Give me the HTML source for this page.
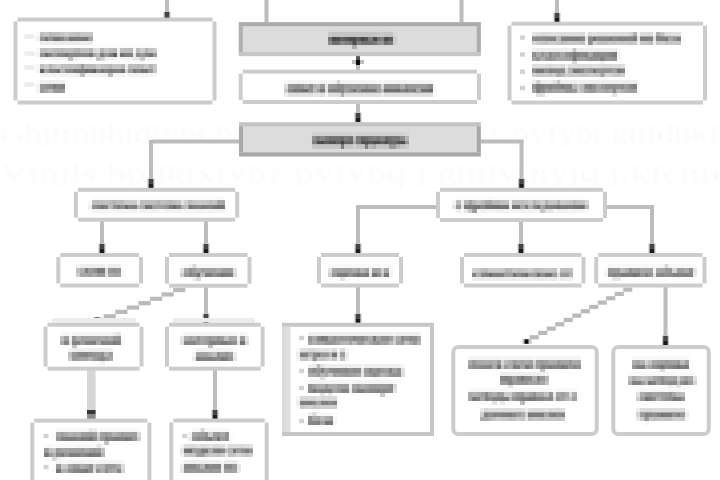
<!DOCTYPE html>
<html><head><meta charset="utf-8"><style>
html,body{margin:0;padding:0;background:#fff;width:720px;height:480px;overflow:hidden}
svg{display:block}
</style></head><body>
<svg width="720" height="480" viewBox="0 0 720 480">
<defs><filter id="b" x="-5%" y="-50%" width="110%" height="200%"><feGaussianBlur stdDeviation="1.3 0.9"/></filter>
<filter id="px" x="0" y="0" width="720" height="480" filterUnits="userSpaceOnUse" primitiveUnits="userSpaceOnUse" color-interpolation-filters="sRGB">
<feGaussianBlur in="SourceGraphic" stdDeviation="0.8" result="bl"/>
<feFlood x="2.0" y="2.0" width="1" height="1" flood-color="#fff" result="dot"/>
<feComposite in="dot" in2="dot" operator="over" x="0" y="0" width="4.0" height="4.0" result="cell"/>
<feTile in="cell" result="grid"/>
<feComposite in="bl" in2="grid" operator="in" result="s"/>
<feMorphology in="s" operator="dilate" radius="2.0" result="m"/>
<feGaussianBlur in="m" stdDeviation="0.7"/>
</filter>
<filter id="b2" x="-5%" y="-5%" width="110%" height="110%"><feGaussianBlur stdDeviation="0.5"/></filter></defs>
<rect width="720" height="480" fill="#fff"/>
<g fill="#fafafa" font-family="Liberation Serif, serif" font-size="25" filter="url(#b)">
<text x="0" y="142" textLength="720" lengthAdjust="spacingAndGlyphs">Ghjtrnbhjdfybt bynt uhfwbb cbcntvs pyfybt ghfdbkf</text>
<text x="0" y="182" textLength="720" lengthAdjust="spacingAndGlyphs">Vtnjls bpdktxtybz pyfybq j ghtlvtnyjq j,kfcnb</text>
</g>
<g filter="url(#b2)">
<rect x="165.00" y="0.00" width="4" height="18.00" fill="#bcbcbc"/>
<rect x="163.50" y="11.50" width="7" height="9.5" fill="#c4c4c4"/>
<rect x="164.75" y="12.00" width="4.5" height="4.5" fill="#444"/>
<rect x="164.75" y="16.50" width="4.5" height="4.5" fill="#1a1a1a"/>
<rect x="264.50" y="0.00" width="4" height="22.00" fill="#bcbcbc"/>
<rect x="459.50" y="0.00" width="4" height="22.00" fill="#bcbcbc"/>
<rect x="555.00" y="0.00" width="4" height="22.00" fill="#bcbcbc"/>
<rect x="553.50" y="12.50" width="7" height="9.5" fill="#c4c4c4"/>
<rect x="554.75" y="13.00" width="4.5" height="4.5" fill="#444"/>
<rect x="554.75" y="17.50" width="4.5" height="4.5" fill="#1a1a1a"/>
<rect x="356.00" y="56.00" width="4" height="14.00" fill="#bcbcbc"/>
<rect x="352.00" y="60.00" width="12" height="4" fill="#bdbdbd"/>
<rect x="356.00" y="60.00" width="4" height="5" fill="#111"/>
<rect x="356.00" y="56" width="4" height="4" fill="#555"/>
<rect x="356.00" y="104.00" width="4" height="18.00" fill="#bcbcbc"/>
<rect x="354.50" y="112.50" width="7" height="9.5" fill="#c4c4c4"/>
<rect x="355.75" y="113.00" width="4.5" height="4.5" fill="#444"/>
<rect x="355.75" y="117.50" width="4.5" height="4.5" fill="#1a1a1a"/>
<rect x="151.00" y="139.50" width="88.00" height="4" fill="#bcbcbc"/>
<rect x="149.00" y="140.00" width="4" height="48.00" fill="#bcbcbc"/>
<rect x="147.50" y="178.50" width="7" height="9.5" fill="#c4c4c4"/>
<rect x="148.75" y="179.00" width="4.5" height="4.5" fill="#444"/>
<rect x="148.75" y="183.50" width="4.5" height="4.5" fill="#1a1a1a"/>
<rect x="481.00" y="139.50" width="42.50" height="4" fill="#bcbcbc"/>
<rect x="519.50" y="140.00" width="4" height="48.00" fill="#bcbcbc"/>
<rect x="518.00" y="178.50" width="7" height="9.5" fill="#c4c4c4"/>
<rect x="519.25" y="179.00" width="4.5" height="4.5" fill="#444"/>
<rect x="519.25" y="183.50" width="4.5" height="4.5" fill="#1a1a1a"/>
<rect x="100.00" y="221.00" width="4" height="32.00" fill="#bcbcbc"/>
<rect x="98.50" y="243.50" width="7" height="9.5" fill="#c4c4c4"/>
<rect x="99.75" y="244.00" width="4.5" height="4.5" fill="#444"/>
<rect x="99.75" y="248.50" width="4.5" height="4.5" fill="#1a1a1a"/>
<rect x="204.00" y="221.00" width="4" height="32.00" fill="#bcbcbc"/>
<rect x="202.50" y="243.50" width="7" height="9.5" fill="#c4c4c4"/>
<rect x="203.75" y="244.00" width="4.5" height="4.5" fill="#444"/>
<rect x="203.75" y="248.50" width="4.5" height="4.5" fill="#1a1a1a"/>
<rect x="356.00" y="205.00" width="82.00" height="4" fill="#bcbcbc"/>
<rect x="356.00" y="205.00" width="4" height="48.00" fill="#bcbcbc"/>
<rect x="354.50" y="243.50" width="7" height="9.5" fill="#c4c4c4"/>
<rect x="355.75" y="244.00" width="4.5" height="4.5" fill="#444"/>
<rect x="355.75" y="248.50" width="4.5" height="4.5" fill="#1a1a1a"/>
<rect x="519.00" y="222.00" width="4" height="31.00" fill="#bcbcbc"/>
<rect x="517.50" y="243.50" width="7" height="9.5" fill="#c4c4c4"/>
<rect x="518.75" y="244.00" width="4.5" height="4.5" fill="#444"/>
<rect x="518.75" y="248.50" width="4.5" height="4.5" fill="#1a1a1a"/>
<rect x="604.00" y="205.00" width="50.00" height="4" fill="#bcbcbc"/>
<rect x="650.00" y="205.00" width="4" height="48.00" fill="#bcbcbc"/>
<rect x="648.50" y="243.50" width="7" height="9.5" fill="#c4c4c4"/>
<rect x="649.75" y="244.00" width="4.5" height="4.5" fill="#444"/>
<rect x="649.75" y="248.50" width="4.5" height="4.5" fill="#1a1a1a"/>
<rect x="173.13" y="288.00" width="12.17" height="4.2" fill="#bababa"/>
<rect x="161.56" y="292.36" width="12.17" height="4.2" fill="#bababa"/>
<rect x="149.99" y="296.71" width="12.17" height="4.2" fill="#bababa"/>
<rect x="138.41" y="301.07" width="12.17" height="4.2" fill="#bababa"/>
<rect x="126.84" y="305.43" width="12.17" height="4.2" fill="#bababa"/>
<rect x="115.27" y="309.79" width="12.17" height="4.2" fill="#bababa"/>
<rect x="103.70" y="314.14" width="12.17" height="4.2" fill="#bababa"/>
<rect x="93.00" y="317.00" width="9" height="5" fill="#c4c4c4"/>
<rect x="95.00" y="317.50" width="4" height="4.5" fill="#111"/>
<rect x="204.00" y="287.00" width="4" height="36.00" fill="#bcbcbc"/>
<rect x="202.50" y="313.50" width="7" height="9.5" fill="#c4c4c4"/>
<rect x="203.75" y="314.00" width="4.5" height="4.5" fill="#444"/>
<rect x="203.75" y="318.50" width="4.5" height="4.5" fill="#1a1a1a"/>
<rect x="87.00" y="370.00" width="8.6" height="49.00" fill="#d6d6d6"/>
<rect x="87" y="410" width="8.6" height="4.4" fill="#383838"/><rect x="87" y="414.4" width="8.6" height="4.6" fill="#8a8a8a"/>
<rect x="213.00" y="370.00" width="4" height="49.00" fill="#bcbcbc"/>
<rect x="211.50" y="409.50" width="7" height="9.5" fill="#c4c4c4"/>
<rect x="212.75" y="410.00" width="4.5" height="4.5" fill="#444"/>
<rect x="212.75" y="414.50" width="4.5" height="4.5" fill="#1a1a1a"/>
<rect x="356.00" y="287.00" width="4" height="36.00" fill="#bcbcbc"/>
<rect x="354.50" y="313.50" width="7" height="9.5" fill="#c4c4c4"/>
<rect x="355.75" y="314.00" width="4.5" height="4.5" fill="#444"/>
<rect x="355.75" y="318.50" width="4.5" height="4.5" fill="#1a1a1a"/>
<rect x="623.20" y="287.50" width="9.10" height="4.2" fill="#bababa"/>
<rect x="614.70" y="291.83" width="9.10" height="4.2" fill="#bababa"/>
<rect x="606.20" y="296.17" width="9.10" height="4.2" fill="#bababa"/>
<rect x="597.70" y="300.50" width="9.10" height="4.2" fill="#bababa"/>
<rect x="589.20" y="304.83" width="9.10" height="4.2" fill="#bababa"/>
<rect x="580.70" y="309.17" width="9.10" height="4.2" fill="#bababa"/>
<rect x="572.20" y="313.50" width="9.10" height="4.2" fill="#bababa"/>
<rect x="563.70" y="317.83" width="9.10" height="4.2" fill="#bababa"/>
<rect x="555.20" y="322.17" width="9.10" height="4.2" fill="#bababa"/>
<rect x="546.70" y="326.50" width="9.10" height="4.2" fill="#bababa"/>
<rect x="538.20" y="330.83" width="9.10" height="4.2" fill="#bababa"/>
<rect x="529.70" y="335.17" width="9.10" height="4.2" fill="#bababa"/>
<rect x="522.50" y="338.80" width="9" height="5" fill="#c4c4c4"/>
<rect x="524.50" y="339.30" width="4" height="4.5" fill="#111"/>
<rect x="663.50" y="287.00" width="4" height="58.00" fill="#bcbcbc"/>
<rect x="662.00" y="335.50" width="7" height="9.5" fill="#c4c4c4"/>
<rect x="663.25" y="336.00" width="4.5" height="4.5" fill="#444"/>
<rect x="663.25" y="340.50" width="4.5" height="4.5" fill="#1a1a1a"/>
<rect x="17.5" y="21.5" width="195.00" height="79.00" fill="#ffffff"/>
<rect x="17.50" y="17.50" width="195.00" height="4" fill="#cccccc"/>
<rect x="17.50" y="100.50" width="195.00" height="4" fill="#cccccc"/>
<rect x="13.50" y="21.50" width="4" height="79.00" fill="#cccccc"/>
<rect x="212.50" y="21.50" width="4" height="79.00" fill="#cccccc"/>
<rect x="238.8" y="22.2" width="242.0" height="33.900000000000006" fill="#dcdcdc"/>
<rect x="238.8" y="22.2" width="242.0" height="4" fill="#ababab"/>
<rect x="238.8" y="52.1" width="242.0" height="4" fill="#c6c6c6"/>
<rect x="238.8" y="26.2" width="4" height="25.900000000000006" fill="#b0b0b0"/>
<rect x="476.8" y="26.2" width="4" height="25.900000000000006" fill="#acacac"/>
<rect x="242.7" y="73.6" width="234.30" height="26.40" fill="#ffffff"/>
<rect x="242.70" y="69.60" width="234.30" height="4" fill="#cccccc"/>
<rect x="242.70" y="100.00" width="234.30" height="4" fill="#cccccc"/>
<rect x="238.70" y="73.60" width="4" height="26.40" fill="#cccccc"/>
<rect x="477.00" y="73.60" width="4" height="26.40" fill="#cccccc"/>
<rect x="239" y="122.3" width="241.8" height="34.10000000000001" fill="#dcdcdc"/>
<rect x="239" y="122.3" width="241.8" height="4" fill="#c4c4c4"/>
<rect x="239" y="152.4" width="241.8" height="4" fill="#a8a8a8"/>
<rect x="239" y="126.3" width="4" height="26.10000000000001" fill="#aaaaaa"/>
<rect x="476.8" y="126.3" width="4" height="26.10000000000001" fill="#a8a8a8"/>
<rect x="511.5" y="25.7" width="191.50" height="74.80" fill="#ffffff"/>
<rect x="511.50" y="21.70" width="191.50" height="4" fill="#cccccc"/>
<rect x="511.50" y="100.50" width="191.50" height="4" fill="#cccccc"/>
<rect x="507.50" y="25.70" width="4" height="74.80" fill="#cccccc"/>
<rect x="703.00" y="25.70" width="4" height="74.80" fill="#cccccc"/>
<rect x="77.9" y="191.8" width="157.30" height="25.90" fill="#ffffff"/>
<rect x="77.90" y="187.80" width="157.30" height="4" fill="#cccccc"/>
<rect x="77.90" y="217.70" width="157.30" height="4" fill="#cccccc"/>
<rect x="73.90" y="191.80" width="4" height="25.90" fill="#cccccc"/>
<rect x="235.20" y="191.80" width="4" height="25.90" fill="#cccccc"/>
<rect x="440" y="191.8" width="163.00" height="26.20" fill="#ffffff"/>
<rect x="440.00" y="187.80" width="163.00" height="4" fill="#cccccc"/>
<rect x="440.00" y="218.00" width="163.00" height="4" fill="#cccccc"/>
<rect x="436.00" y="191.80" width="4" height="26.20" fill="#cccccc"/>
<rect x="603.00" y="191.80" width="4" height="26.20" fill="#cccccc"/>
<rect x="60.3" y="257" width="78.70" height="26.50" fill="#ffffff"/>
<rect x="60.30" y="253.00" width="78.70" height="4" fill="#cccccc"/>
<rect x="60.30" y="283.50" width="78.70" height="4" fill="#cccccc"/>
<rect x="56.30" y="257.00" width="4" height="26.50" fill="#cccccc"/>
<rect x="139.00" y="257.00" width="4" height="26.50" fill="#cccccc"/>
<rect x="169" y="257" width="78.50" height="26.70" fill="#ffffff"/>
<rect x="169.00" y="253.00" width="78.50" height="4" fill="#cccccc"/>
<rect x="169.00" y="283.70" width="78.50" height="4" fill="#cccccc"/>
<rect x="165.00" y="257.00" width="4" height="26.70" fill="#cccccc"/>
<rect x="247.50" y="257.00" width="4" height="26.70" fill="#cccccc"/>
<rect x="321" y="257" width="78.00" height="26.50" fill="#ffffff"/>
<rect x="321.00" y="253.00" width="78.00" height="4" fill="#cccccc"/>
<rect x="321.00" y="283.50" width="78.00" height="4" fill="#cccccc"/>
<rect x="317.00" y="257.00" width="4" height="26.50" fill="#cccccc"/>
<rect x="399.00" y="257.00" width="4" height="26.50" fill="#cccccc"/>
<rect x="464" y="257" width="117.50" height="26.50" fill="#ffffff"/>
<rect x="464.00" y="253.00" width="117.50" height="4" fill="#cccccc"/>
<rect x="464.00" y="283.50" width="117.50" height="4" fill="#cccccc"/>
<rect x="460.00" y="257.00" width="4" height="26.50" fill="#cccccc"/>
<rect x="581.50" y="257.00" width="4" height="26.50" fill="#cccccc"/>
<rect x="598.2" y="257" width="104.30" height="26.50" fill="#ffffff"/>
<rect x="598.20" y="253.00" width="104.30" height="4" fill="#cccccc"/>
<rect x="598.20" y="283.50" width="104.30" height="4" fill="#cccccc"/>
<rect x="594.20" y="257.00" width="4" height="26.50" fill="#cccccc"/>
<rect x="702.50" y="257.00" width="4" height="26.50" fill="#cccccc"/>
<rect x="52" y="318" width="84" height="4.5" fill="#ececec"/>
<rect x="47.5" y="326.7" width="92.00" height="39.90" fill="#ffffff"/>
<rect x="47.50" y="322.70" width="92.00" height="4" fill="#cccccc"/>
<rect x="47.50" y="366.60" width="92.00" height="4" fill="#cccccc"/>
<rect x="43.50" y="326.70" width="4" height="39.90" fill="#cccccc"/>
<rect x="139.50" y="326.70" width="4" height="39.90" fill="#cccccc"/>
<rect x="173" y="318" width="82" height="4.5" fill="#ececec"/>
<rect x="169" y="326.7" width="91.60" height="39.90" fill="#ffffff"/>
<rect x="169.00" y="322.70" width="91.60" height="4" fill="#cccccc"/>
<rect x="169.00" y="366.60" width="91.60" height="4" fill="#cccccc"/>
<rect x="165.00" y="326.70" width="4" height="39.90" fill="#cccccc"/>
<rect x="260.60" y="326.70" width="4" height="39.90" fill="#cccccc"/>
<rect x="282" y="322.8" width="152" height="113.19999999999999" fill="#fff"/>
<rect x="282" y="322.8" width="152" height="4" fill="#c6c6c6"/>
<rect x="282" y="432" width="152" height="4" fill="#c6c6c6"/>
<rect x="282" y="326.8" width="4" height="105.19999999999999" fill="#dcdcdc"/>
<rect x="430" y="326.8" width="4" height="105.19999999999999" fill="#c6c6c6"/>
<rect x="286" y="326.8" width="4.6" height="105.2" fill="#dedede"/>
<rect x="453.25" y="347.00" width="143.50" height="87.00" rx="5" fill="#ffffff" stroke="#cccccc" stroke-width="4"/>
<rect x="613.25" y="347.00" width="95.55" height="87.00" rx="5" fill="#ffffff" stroke="#cccccc" stroke-width="4"/>
<rect x="34.3" y="422.6" width="113.10" height="63.40" fill="#ffffff"/>
<rect x="34.30" y="418.60" width="113.10" height="4" fill="#cccccc"/>
<rect x="34.30" y="486.00" width="113.10" height="4" fill="#cccccc"/>
<rect x="30.30" y="422.60" width="4" height="63.40" fill="#cccccc"/>
<rect x="147.40" y="422.60" width="4" height="63.40" fill="#cccccc"/>
<rect x="173.3" y="422.5" width="91.40" height="63.50" fill="#ffffff"/>
<rect x="173.30" y="418.50" width="91.40" height="4" fill="#cccccc"/>
<rect x="173.30" y="486.00" width="91.40" height="4" fill="#cccccc"/>
<rect x="169.30" y="422.50" width="4" height="63.50" fill="#cccccc"/>
<rect x="264.70" y="422.50" width="4" height="63.50" fill="#cccccc"/>
<rect x="24.5" y="34.3" width="10" height="4.4" fill="#ececec"/>
<rect x="24.5" y="51.3" width="10" height="4.4" fill="#ececec"/>
<rect x="24.5" y="65.3" width="10" height="4.4" fill="#ececec"/>
<rect x="24.5" y="82.3" width="10" height="4.4" fill="#ececec"/>
<rect x="520.0" y="35.3" width="5" height="4.4" fill="#d2d2d2"/>
<rect x="520.0" y="52.3" width="5" height="4.4" fill="#d2d2d2"/>
<rect x="520.0" y="69.5" width="5" height="4.4" fill="#d2d2d2"/>
<rect x="520.0" y="85.8" width="5" height="4.4" fill="#d2d2d2"/>
<rect x="299.0" y="335.8" width="5" height="4.4" fill="#d2d2d2"/>
<rect x="299.0" y="368.8" width="5" height="4.4" fill="#d2d2d2"/>
<rect x="299.0" y="385.8" width="5" height="4.4" fill="#d2d2d2"/>
<rect x="299.0" y="418.8" width="5" height="4.4" fill="#d2d2d2"/>
<rect x="43.5" y="433.8" width="5" height="4.4" fill="#d2d2d2"/>
<rect x="43.5" y="464.8" width="5" height="4.4" fill="#d2d2d2"/>
<rect x="182.2" y="433.8" width="5" height="4.4" fill="#d2d2d2"/>
</g>
<g filter="url(#px)">
<g id="bandg">
<rect x="39.50" y="32.5" width="53.00" height="4.50" fill="#dedede"/>
<rect x="39.50" y="37" width="53.00" height="4.50" fill="#c3c3c3"/>
<rect x="39.50" y="48.0" width="55.76" height="4.50" fill="#dedede"/>
<rect x="97.52" y="48.0" width="20.16" height="4.50" fill="#dedede"/>
<rect x="119.94" y="48.0" width="13.14" height="4.50" fill="#dedede"/>
<rect x="135.34" y="48.0" width="20.16" height="4.50" fill="#dedede"/>
<rect x="39.50" y="52.5" width="55.76" height="4.50" fill="#c3c3c3"/>
<rect x="97.52" y="52.5" width="20.16" height="4.50" fill="#c3c3c3"/>
<rect x="119.94" y="52.5" width="13.14" height="4.50" fill="#c3c3c3"/>
<rect x="135.34" y="52.5" width="20.16" height="4.50" fill="#c3c3c3"/>
<rect x="39.50" y="64.0" width="84.97" height="4.50" fill="#dedede"/>
<rect x="126.71" y="64.0" width="28.79" height="4.50" fill="#dedede"/>
<rect x="39.50" y="68.5" width="84.97" height="4.50" fill="#c3c3c3"/>
<rect x="126.71" y="68.5" width="28.79" height="4.50" fill="#c3c3c3"/>
<rect x="39.50" y="82.5" width="25.00" height="4.50" fill="#dedede"/>
<rect x="39.50" y="87" width="25.00" height="4.50" fill="#c3c3c3"/>
<rect x="329.50" y="31" width="49.99" height="4.00" fill="#d3d3d3"/>
<rect x="381.46" y="31" width="12.04" height="4.00" fill="#d3d3d3"/>
<rect x="329.50" y="35" width="49.99" height="8.50" fill="#a3a3a3"/>
<rect x="381.46" y="35" width="12.04" height="8.50" fill="#a3a3a3"/>
<rect x="286.50" y="83" width="28.88" height="4.00" fill="#dfdfdf"/>
<rect x="317.63" y="83" width="7.96" height="4.00" fill="#dfdfdf"/>
<rect x="327.84" y="83" width="52.13" height="4.00" fill="#dfdfdf"/>
<rect x="382.22" y="83" width="50.88" height="4.00" fill="#dfdfdf"/>
<rect x="286.50" y="87" width="28.88" height="4.00" fill="#a3a3a3"/>
<rect x="317.63" y="87" width="7.96" height="4.00" fill="#a3a3a3"/>
<rect x="327.84" y="87" width="52.13" height="4.00" fill="#a3a3a3"/>
<rect x="382.22" y="87" width="50.88" height="4.00" fill="#a3a3a3"/>
<rect x="286.50" y="91" width="28.88" height="4.50" fill="#d6d6d6"/>
<rect x="317.63" y="91" width="7.96" height="4.50" fill="#d6d6d6"/>
<rect x="327.84" y="91" width="52.13" height="4.50" fill="#d6d6d6"/>
<rect x="382.22" y="91" width="50.88" height="4.50" fill="#d6d6d6"/>
<rect x="312.90" y="134.2" width="40.02" height="4.80" fill="#c9c9c9"/>
<rect x="354.93" y="134.2" width="51.87" height="4.80" fill="#c9c9c9"/>
<rect x="312.90" y="139" width="40.02" height="5.00" fill="#969696"/>
<rect x="354.93" y="139" width="51.87" height="5.00" fill="#969696"/>
<rect x="312.90" y="144" width="40.02" height="4.30" fill="#c3c3c3"/>
<rect x="354.93" y="144" width="51.87" height="4.30" fill="#c3c3c3"/>
<rect x="533.00" y="33.5" width="52.80" height="4.50" fill="#dedede"/>
<rect x="588.05" y="33.5" width="49.93" height="4.50" fill="#dedede"/>
<rect x="640.23" y="33.5" width="13.73" height="4.50" fill="#dedede"/>
<rect x="656.21" y="33.5" width="24.29" height="4.50" fill="#dedede"/>
<rect x="533.00" y="38" width="52.80" height="4.50" fill="#c3c3c3"/>
<rect x="588.05" y="38" width="49.93" height="4.50" fill="#c3c3c3"/>
<rect x="640.23" y="38" width="13.73" height="4.50" fill="#c3c3c3"/>
<rect x="656.21" y="38" width="24.29" height="4.50" fill="#c3c3c3"/>
<rect x="533.00" y="50.5" width="84.50" height="4.50" fill="#dedede"/>
<rect x="533.00" y="55" width="84.50" height="4.50" fill="#c3c3c3"/>
<rect x="533.00" y="65.5" width="33.41" height="4.50" fill="#dedede"/>
<rect x="568.68" y="65.5" width="55.82" height="4.50" fill="#dedede"/>
<rect x="533.00" y="70" width="33.41" height="4.50" fill="#c3c3c3"/>
<rect x="568.68" y="70" width="55.82" height="4.50" fill="#c3c3c3"/>
<rect x="533.00" y="82.5" width="45.87" height="4.50" fill="#dedede"/>
<rect x="581.14" y="82.5" width="55.86" height="4.50" fill="#dedede"/>
<rect x="533.00" y="87" width="45.87" height="4.50" fill="#c3c3c3"/>
<rect x="581.14" y="87" width="55.86" height="4.50" fill="#c3c3c3"/>
<rect x="91.50" y="200.0" width="44.64" height="4.50" fill="#dedede"/>
<rect x="138.38" y="200.0" width="44.64" height="4.50" fill="#dedede"/>
<rect x="185.25" y="200.0" width="39.55" height="4.50" fill="#dedede"/>
<rect x="91.50" y="204.5" width="44.64" height="4.50" fill="#c3c3c3"/>
<rect x="138.38" y="204.5" width="44.64" height="4.50" fill="#c3c3c3"/>
<rect x="185.25" y="204.5" width="39.55" height="4.50" fill="#c3c3c3"/>
<rect x="455.20" y="200.0" width="6.74" height="4.50" fill="#dedede"/>
<rect x="464.17" y="200.0" width="45.37" height="4.50" fill="#dedede"/>
<rect x="511.78" y="200.0" width="75.72" height="4.50" fill="#dedede"/>
<rect x="455.20" y="204.5" width="6.74" height="4.50" fill="#c3c3c3"/>
<rect x="464.17" y="204.5" width="45.37" height="4.50" fill="#c3c3c3"/>
<rect x="511.78" y="204.5" width="75.72" height="4.50" fill="#c3c3c3"/>
<rect x="78.00" y="266.5" width="26.60" height="4.50" fill="#dedede"/>
<rect x="106.83" y="266.5" width="14.37" height="4.50" fill="#dedede"/>
<rect x="78.00" y="271" width="26.60" height="4.50" fill="#c3c3c3"/>
<rect x="106.83" y="271" width="14.37" height="4.50" fill="#c3c3c3"/>
<rect x="182.50" y="267.5" width="52.00" height="4.50" fill="#dedede"/>
<rect x="182.50" y="272" width="52.00" height="4.50" fill="#c3c3c3"/>
<rect x="330.50" y="267.5" width="39.17" height="4.50" fill="#dedede"/>
<rect x="371.93" y="267.5" width="7.98" height="4.50" fill="#dedede"/>
<rect x="382.17" y="267.5" width="7.33" height="4.50" fill="#dedede"/>
<rect x="330.50" y="272" width="39.17" height="4.50" fill="#c3c3c3"/>
<rect x="371.93" y="272" width="7.98" height="4.50" fill="#c3c3c3"/>
<rect x="382.17" y="272" width="7.33" height="4.50" fill="#c3c3c3"/>
<rect x="473.00" y="268.5" width="83.73" height="4.50" fill="#dedede"/>
<rect x="558.98" y="268.5" width="13.02" height="4.50" fill="#dedede"/>
<rect x="473.00" y="273" width="83.73" height="4.50" fill="#c3c3c3"/>
<rect x="558.98" y="273" width="13.02" height="4.50" fill="#c3c3c3"/>
<rect x="607.50" y="267.5" width="46.27" height="4.50" fill="#dedede"/>
<rect x="656.02" y="267.5" width="38.08" height="4.50" fill="#dedede"/>
<rect x="607.50" y="272" width="46.27" height="4.50" fill="#c3c3c3"/>
<rect x="656.02" y="272" width="38.08" height="4.50" fill="#c3c3c3"/>
<rect x="61.75" y="335.0" width="7.88" height="4.50" fill="#dedede"/>
<rect x="71.84" y="335.0" width="49.36" height="4.50" fill="#dedede"/>
<rect x="61.75" y="339.5" width="7.88" height="4.50" fill="#c3c3c3"/>
<rect x="71.84" y="339.5" width="49.36" height="4.50" fill="#c3c3c3"/>
<rect x="70.10" y="350.5" width="41.70" height="4.50" fill="#dedede"/>
<rect x="70.10" y="355" width="41.70" height="4.50" fill="#c3c3c3"/>
<rect x="182.80" y="335.0" width="54.13" height="4.50" fill="#dedede"/>
<rect x="239.15" y="335.0" width="7.25" height="4.50" fill="#dedede"/>
<rect x="182.80" y="339.5" width="54.13" height="4.50" fill="#c3c3c3"/>
<rect x="239.15" y="339.5" width="7.25" height="4.50" fill="#c3c3c3"/>
<rect x="195.30" y="351.0" width="38.60" height="4.50" fill="#dedede"/>
<rect x="195.30" y="355.5" width="38.60" height="4.50" fill="#c3c3c3"/>
<rect x="308.50" y="334.5" width="83.47" height="4.50" fill="#dedede"/>
<rect x="394.21" y="334.5" width="25.29" height="4.50" fill="#dedede"/>
<rect x="308.50" y="339" width="83.47" height="4.50" fill="#c3c3c3"/>
<rect x="394.21" y="339" width="25.29" height="4.50" fill="#c3c3c3"/>
<rect x="299.25" y="349.5" width="28.47" height="4.50" fill="#dedede"/>
<rect x="329.97" y="349.5" width="7.13" height="4.50" fill="#dedede"/>
<rect x="339.34" y="349.5" width="6.76" height="4.50" fill="#dedede"/>
<rect x="299.25" y="354" width="28.47" height="4.50" fill="#c3c3c3"/>
<rect x="329.97" y="354" width="7.13" height="4.50" fill="#c3c3c3"/>
<rect x="339.34" y="354" width="6.76" height="4.50" fill="#c3c3c3"/>
<rect x="308.50" y="366.5" width="52.31" height="4.50" fill="#dedede"/>
<rect x="363.08" y="366.5" width="39.22" height="4.50" fill="#dedede"/>
<rect x="308.50" y="371" width="52.31" height="4.50" fill="#c3c3c3"/>
<rect x="363.08" y="371" width="39.22" height="4.50" fill="#c3c3c3"/>
<rect x="308.50" y="383.0" width="40.94" height="4.50" fill="#dedede"/>
<rect x="351.67" y="383.0" width="42.83" height="4.50" fill="#dedede"/>
<rect x="308.50" y="387.5" width="40.94" height="4.50" fill="#c3c3c3"/>
<rect x="351.67" y="387.5" width="42.83" height="4.50" fill="#c3c3c3"/>
<rect x="299.25" y="397.0" width="37.45" height="4.50" fill="#dedede"/>
<rect x="299.25" y="401.5" width="37.45" height="4.50" fill="#c3c3c3"/>
<rect x="308.50" y="415.5" width="25.00" height="4.50" fill="#dedede"/>
<rect x="308.50" y="420" width="25.00" height="4.50" fill="#c3c3c3"/>
<rect x="469.25" y="359.0" width="33.67" height="4.50" fill="#dedede"/>
<rect x="505.18" y="359.0" width="26.90" height="4.50" fill="#dedede"/>
<rect x="534.36" y="359.0" width="46.54" height="4.50" fill="#dedede"/>
<rect x="469.25" y="363.5" width="33.67" height="4.50" fill="#c3c3c3"/>
<rect x="505.18" y="363.5" width="26.90" height="4.50" fill="#c3c3c3"/>
<rect x="534.36" y="363.5" width="46.54" height="4.50" fill="#c3c3c3"/>
<rect x="500.50" y="374.5" width="46.70" height="4.50" fill="#dedede"/>
<rect x="500.50" y="379" width="46.70" height="4.50" fill="#c3c3c3"/>
<rect x="469.25" y="391.5" width="41.76" height="4.50" fill="#dedede"/>
<rect x="513.24" y="391.5" width="39.60" height="4.50" fill="#dedede"/>
<rect x="555.08" y="391.5" width="12.95" height="4.50" fill="#dedede"/>
<rect x="570.26" y="391.5" width="6.74" height="4.50" fill="#dedede"/>
<rect x="469.25" y="396" width="41.76" height="4.50" fill="#c3c3c3"/>
<rect x="513.24" y="396" width="39.60" height="4.50" fill="#c3c3c3"/>
<rect x="555.08" y="396" width="12.95" height="4.50" fill="#c3c3c3"/>
<rect x="570.26" y="396" width="6.74" height="4.50" fill="#c3c3c3"/>
<rect x="481.75" y="409.5" width="42.42" height="4.50" fill="#dedede"/>
<rect x="526.41" y="409.5" width="38.09" height="4.50" fill="#dedede"/>
<rect x="481.75" y="414" width="42.42" height="4.50" fill="#c3c3c3"/>
<rect x="526.41" y="414" width="38.09" height="4.50" fill="#c3c3c3"/>
<rect x="633.30" y="359.5" width="13.88" height="4.50" fill="#dedede"/>
<rect x="649.47" y="359.5" width="39.53" height="4.50" fill="#dedede"/>
<rect x="633.30" y="364" width="13.88" height="4.50" fill="#c3c3c3"/>
<rect x="649.47" y="364" width="39.53" height="4.50" fill="#c3c3c3"/>
<rect x="629.80" y="375.5" width="13.71" height="4.50" fill="#dedede"/>
<rect x="645.76" y="375.5" width="33.21" height="4.50" fill="#dedede"/>
<rect x="681.22" y="375.5" width="13.08" height="4.50" fill="#dedede"/>
<rect x="629.80" y="380" width="13.71" height="4.50" fill="#c3c3c3"/>
<rect x="645.76" y="380" width="33.21" height="4.50" fill="#c3c3c3"/>
<rect x="681.22" y="380" width="13.08" height="4.50" fill="#c3c3c3"/>
<rect x="638.50" y="391.5" width="45.20" height="4.50" fill="#dedede"/>
<rect x="638.50" y="396" width="45.20" height="4.50" fill="#c3c3c3"/>
<rect x="638.50" y="409.5" width="47.00" height="4.50" fill="#dedede"/>
<rect x="638.50" y="414" width="47.00" height="4.50" fill="#c3c3c3"/>
<rect x="56.00" y="431.5" width="40.07" height="4.50" fill="#dedede"/>
<rect x="98.35" y="431.5" width="40.15" height="4.50" fill="#dedede"/>
<rect x="56.00" y="436" width="40.07" height="4.50" fill="#c3c3c3"/>
<rect x="98.35" y="436" width="40.15" height="4.50" fill="#c3c3c3"/>
<rect x="44.50" y="447.5" width="7.23" height="4.50" fill="#dedede"/>
<rect x="53.94" y="447.5" width="49.26" height="4.50" fill="#dedede"/>
<rect x="44.50" y="452" width="7.23" height="4.50" fill="#c3c3c3"/>
<rect x="53.94" y="452" width="49.26" height="4.50" fill="#c3c3c3"/>
<rect x="56.00" y="463.0" width="7.36" height="4.50" fill="#dedede"/>
<rect x="65.63" y="463.0" width="29.08" height="4.50" fill="#dedede"/>
<rect x="96.98" y="463.0" width="25.52" height="4.50" fill="#dedede"/>
<rect x="56.00" y="467.5" width="7.36" height="4.50" fill="#c3c3c3"/>
<rect x="65.63" y="467.5" width="29.08" height="4.50" fill="#c3c3c3"/>
<rect x="96.98" y="467.5" width="25.52" height="4.50" fill="#c3c3c3"/>
<rect x="191.30" y="431.5" width="37.50" height="4.50" fill="#dedede"/>
<rect x="191.30" y="436" width="37.50" height="4.50" fill="#c3c3c3"/>
<rect x="182.90" y="445.5" width="41.20" height="4.50" fill="#dedede"/>
<rect x="226.35" y="445.5" width="25.35" height="4.50" fill="#dedede"/>
<rect x="182.90" y="450" width="41.20" height="4.50" fill="#c3c3c3"/>
<rect x="226.35" y="450" width="25.35" height="4.50" fill="#c3c3c3"/>
<rect x="182.90" y="462.5" width="38.33" height="4.50" fill="#dedede"/>
<rect x="223.49" y="462.5" width="14.51" height="4.50" fill="#dedede"/>
<rect x="182.90" y="467" width="38.33" height="4.50" fill="#c3c3c3"/>
<rect x="223.49" y="467" width="14.51" height="4.50" fill="#c3c3c3"/>
</g>
<g font-family="Liberation Serif, serif">
<text x="40" y="41" textLength="52" lengthAdjust="spacingAndGlyphs" font-size="13" fill="#000">описание</text>
<text x="40" y="56.5" textLength="115" lengthAdjust="spacingAndGlyphs" font-size="13" fill="#000">экспертов для из для</text>
<text x="40" y="72.5" textLength="115" lengthAdjust="spacingAndGlyphs" font-size="13" fill="#000">классификация опыт</text>
<text x="40" y="91" textLength="24" lengthAdjust="spacingAndGlyphs" font-size="13" fill="#000">сети</text>
<text x="330" y="43" textLength="63" lengthAdjust="spacingAndGlyphs" font-size="12" fill="#000" font-weight="bold">интервью из</text>
<text x="287" y="92" textLength="145.60000000000002" lengthAdjust="spacingAndGlyphs" font-size="13" fill="#000">опыт и обучение аналогия</text>
<text x="313.4" y="144" textLength="92.90000000000003" lengthAdjust="spacingAndGlyphs" font-size="12" fill="#000" font-weight="bold">эксперт структура</text>
<text x="533.5" y="42" textLength="146.5" lengthAdjust="spacingAndGlyphs" font-size="13" fill="#000">описание решений на база</text>
<text x="533.5" y="59" textLength="83.5" lengthAdjust="spacingAndGlyphs" font-size="13" fill="#000">классификация</text>
<text x="533.5" y="74" textLength="90.5" lengthAdjust="spacingAndGlyphs" font-size="13" fill="#000">метод экспертов</text>
<text x="533.5" y="91" textLength="103.0" lengthAdjust="spacingAndGlyphs" font-size="13" fill="#000">фреймы экспертов</text>
<text x="92" y="208.5" textLength="132.3" lengthAdjust="spacingAndGlyphs" font-size="13" fill="#000">система система знаний</text>
<text x="455.7" y="208.5" textLength="131.3" lengthAdjust="spacingAndGlyphs" font-size="13" fill="#000">с фреймы исследование</text>
<text x="78.5" y="275" textLength="42.2" lengthAdjust="spacingAndGlyphs" font-size="13" fill="#000">схем по</text>
<text x="183" y="276" textLength="51" lengthAdjust="spacingAndGlyphs" font-size="13" fill="#000">обучение</text>
<text x="331" y="276" textLength="58" lengthAdjust="spacingAndGlyphs" font-size="13" fill="#000">оценка и к</text>
<text x="473.5" y="277" textLength="98.0" lengthAdjust="spacingAndGlyphs" font-size="13" fill="#000">семантические от</text>
<text x="608" y="276" textLength="85.60000000000002" lengthAdjust="spacingAndGlyphs" font-size="13" fill="#000">правило объект</text>
<text x="62.25" y="343.5" textLength="58.45" lengthAdjust="spacingAndGlyphs" font-size="13" fill="#000">и решений</text>
<text x="70.6" y="359" textLength="40.7" lengthAdjust="spacingAndGlyphs" font-size="13" fill="#000">методы</text>
<text x="183.3" y="343.5" textLength="62.599999999999994" lengthAdjust="spacingAndGlyphs" font-size="13" fill="#000">интервью к</text>
<text x="195.8" y="359.5" textLength="37.599999999999994" lengthAdjust="spacingAndGlyphs" font-size="13" fill="#000">анализ</text>
<text x="309" y="343" textLength="110" lengthAdjust="spacingAndGlyphs" font-size="13" fill="#000">семантические сети</text>
<text x="299.75" y="358" textLength="45.85000000000002" lengthAdjust="spacingAndGlyphs" font-size="13" fill="#000">игры в с</text>
<text x="309" y="375" textLength="92.80000000000001" lengthAdjust="spacingAndGlyphs" font-size="13" fill="#000">обучение оценка</text>
<text x="309" y="391.5" textLength="85" lengthAdjust="spacingAndGlyphs" font-size="13" fill="#000">модели эксперт</text>
<text x="299.75" y="405.5" textLength="36.44999999999999" lengthAdjust="spacingAndGlyphs" font-size="13" fill="#000">анализ</text>
<text x="309" y="424" textLength="24" lengthAdjust="spacingAndGlyphs" font-size="13" fill="#000">база</text>
<text x="469.75" y="367.5" textLength="110.64999999999998" lengthAdjust="spacingAndGlyphs" font-size="13" fill="#000">поиск схем правило</text>
<text x="501" y="383" textLength="45.700000000000045" lengthAdjust="spacingAndGlyphs" font-size="13" fill="#000">правило</text>
<text x="469.75" y="400" textLength="106.75" lengthAdjust="spacingAndGlyphs" font-size="13" fill="#000">методы правил от с</text>
<text x="482.25" y="418" textLength="81.75" lengthAdjust="spacingAndGlyphs" font-size="13" fill="#000">данных анализ</text>
<text x="633.8" y="368" textLength="54.700000000000045" lengthAdjust="spacingAndGlyphs" font-size="13" fill="#000">на оценка</text>
<text x="630.3" y="384" textLength="63.5" lengthAdjust="spacingAndGlyphs" font-size="13" fill="#000">на метод из</text>
<text x="639" y="400" textLength="44.200000000000045" lengthAdjust="spacingAndGlyphs" font-size="13" fill="#000">система</text>
<text x="639" y="418" textLength="46" lengthAdjust="spacingAndGlyphs" font-size="13" fill="#000">правило</text>
<text x="56.5" y="440" textLength="81.5" lengthAdjust="spacingAndGlyphs" font-size="13" fill="#000">знаний правил</text>
<text x="45" y="456" textLength="57.7" lengthAdjust="spacingAndGlyphs" font-size="13" fill="#000">к решений</text>
<text x="56.5" y="471.5" textLength="65.5" lengthAdjust="spacingAndGlyphs" font-size="13" fill="#000">к опыт сети</text>
<text x="191.8" y="440" textLength="36.5" lengthAdjust="spacingAndGlyphs" font-size="13" fill="#000">объект</text>
<text x="183.4" y="454" textLength="67.79999999999998" lengthAdjust="spacingAndGlyphs" font-size="13" fill="#000">модели сети</text>
<text x="183.4" y="471" textLength="54.099999999999994" lengthAdjust="spacingAndGlyphs" font-size="13" fill="#000">анализ по</text>
</g>
</g>
</svg>
</body></html>
